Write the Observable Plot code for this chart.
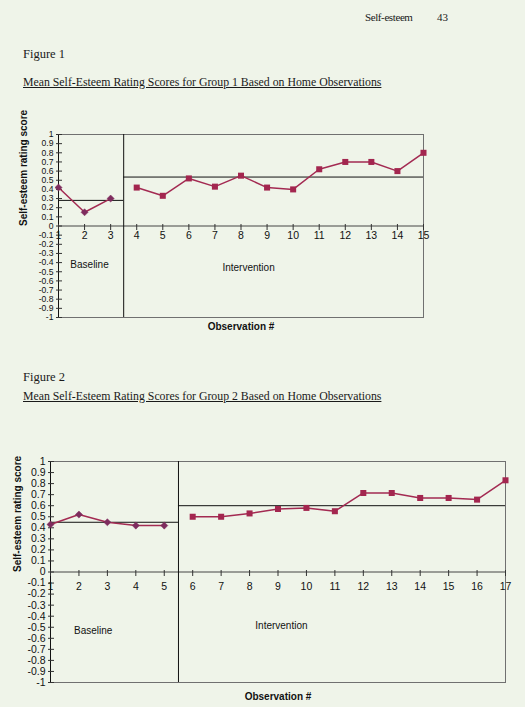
<!DOCTYPE html>
<html>
<head>
<meta charset="utf-8">
<script src="https://cdn.jsdelivr.net/npm/d3@7"></script>
<script src="https://cdn.jsdelivr.net/npm/@observablehq/plot@0.6"></script>
<style>
  html, body { margin: 0; padding: 0; }
  body { background: #eff4e9; width: 525px; height: 707px; overflow: hidden; }
  #page { position: relative; width: 525px; height: 707px; }
  .serif { position: absolute; font-family: "Liberation Serif", "Times New Roman", serif; font-size: 11.8px; line-height: 12px; color: #1a1a1a; white-space: nowrap; }
  .u { text-decoration: underline; }
  .chart { position: absolute; left: 0; }
</style>
</head>
<body>
<div id="page">
  <div class="serif" style="left:365px; top:11px; font-size:11px; letter-spacing:-0.4px;">Self-esteem</div>
  <div class="serif" style="left:437px; top:11px; font-size:11px;">43</div>
  <div class="serif" style="left:23px; top:48px; font-size:12.5px;">Figure 1</div>
  <div class="serif u" style="left:23px; top:76px;">Mean Self-Esteem Rating Scores for Group 1 Based on Home Observations</div>
  <div class="serif" style="left:23px; top:371px; font-size:12.5px;">Figure 2</div>
  <div class="serif u" style="left:23px; top:390px;">Mean Self-Esteem Rating Scores for Group 2 Based on Home Observations</div>
  <div id="c1" class="chart" style="top:120px;"></div>
  <div id="c2" class="chart" style="top:445px;"></div>
</div>
<script>
// ---- Data ----
const yTicks = d3.range(-10, 11).map(i => i / 10);

// Group 1
const baseObs1 = [1, 2, 3];
const baseVals1 = [0.42, 0.15, 0.30];
const intObs1 = [4, 5, 6, 7, 8, 9, 10, 11, 12, 13, 14, 15];
const intVals1 = [0.42, 0.33, 0.52, 0.43, 0.55, 0.42, 0.40, 0.62, 0.70, 0.70, 0.60, 0.80];
const baseMean1 = 0.28;
const intMean1 = 0.535;

// Group 2
const baseObs2 = [1, 2, 3, 4, 5];
const baseVals2 = [0.43, 0.52, 0.45, 0.42, 0.42];
const intObs2 = [6, 7, 8, 9, 10, 11, 12, 13, 14, 15, 16, 17];
const intVals2 = [0.50, 0.50, 0.53, 0.57, 0.58, 0.55, 0.715, 0.715, 0.67, 0.67, 0.655, 0.83];
const baseMean2 = 0.45;
const intMean2 = 0.60;

const phaseLabels = ["Baseline", "Intervention"];

// ---- Drawing ----
const lineColor = "#a32a52";
const squareColor = "#a3264f";
const diamondColor = "#7e2c5e";
const fmt = d => (Math.abs(d) < 1e-9 ? "0" : String(+d.toFixed(1)));

const hTick = { draw(ctx) { ctx.moveTo(-2.5, 0); ctx.lineTo(3.5, 0); } };
const vTick = { draw(ctx) { ctx.moveTo(0, -2); ctx.lineTo(0, 4); } };

function chart(cfg) {
  const base = cfg.baseObs.map((o, i) => ({ obs: o, value: cfg.baseVals[i] }));
  const inter = cfg.intObs.map((o, i) => ({ obs: o, value: cfg.intVals[i] }));
  const allObs = cfg.baseObs.concat(cfg.intObs);
  const x0 = allObs[0], x1 = allObs[allObs.length - 1];
  const split = (cfg.baseObs[cfg.baseObs.length - 1] + cfg.intObs[0]) / 2;
  return Plot.plot({
    width: 525,
    height: cfg.height,
    marginTop: cfg.mt, marginBottom: cfg.mb, marginLeft: cfg.ml, marginRight: cfg.mr,
    x: { domain: [x0, x1], axis: null },
    y: { domain: [-1, 1] },
    style: { background: "transparent", fontFamily: "'Liberation Sans', Arial, sans-serif", fontSize: "10.5px", color: "#111", overflow: "visible" },
    marks: [
      Plot.frame({ stroke: "#707070", strokeWidth: 1 }),
      Plot.ruleY([0], { stroke: "#444", strokeWidth: 1 }),
      Plot.ruleX([x0], { stroke: "#111", strokeWidth: 1 }),
      Plot.ruleX([split], { stroke: "#111", strokeWidth: 1 }),
      Plot.ruleY([cfg.baseMean], { x1: () => x0, x2: () => split, stroke: "#111", strokeWidth: 1 }),
      Plot.ruleY([cfg.intMean], { x1: () => split, x2: () => x1, stroke: "#111", strokeWidth: 1 }),
      Plot.dot(yTicks, { x: () => x0, y: d => d, symbol: hTick, stroke: "#333", strokeWidth: 1, r: 3 }),
      Plot.dot(allObs, { x: d => d, y: () => 0, symbol: vTick, stroke: "#333", strokeWidth: 1, r: 3 }),
      Plot.axisY({ ticks: yTicks, tickSize: 0, tickPadding: 5, tickFormat: fmt, label: null, fontSize: cfg.yFont }),
      Plot.text(allObs, { x: d => d, y: () => 0, dy: cfg.xLabelDy, text: d => String(d), fontSize: 10.5 }),
      Plot.line(base, { x: "obs", y: "value", stroke: lineColor, strokeWidth: 1.5 }),
      Plot.line(inter, { x: "obs", y: "value", stroke: lineColor, strokeWidth: 1.5 }),
      Plot.dot(base, { x: "obs", y: "value", symbol: "diamond2", fill: diamondColor, stroke: diamondColor, strokeWidth: 0.5, r: 3.2 }),
      Plot.dot(inter, { x: "obs", y: "value", symbol: "square", fill: squareColor, r: 3.4 }),
      Plot.text([phaseLabels[0]], { x: cfg.baseLabel[0], y: cfg.baseLabel[1], text: d => d, fontSize: 10 }),
      Plot.text([phaseLabels[1]], { x: cfg.intLabel[0], y: cfg.intLabel[1], text: d => d, fontSize: 10 }),
      Plot.text(["Observation #"], { frameAnchor: "bottom", dy: cfg.obsDy, text: d => d, fontWeight: "bold", fontSize: 10 }),
      Plot.text(["Self-esteem rating score"], { frameAnchor: "left", dx: cfg.yTitleDx, rotate: -90, text: d => d, fontWeight: "bold", fontSize: 10 })
    ]
  });
}

document.getElementById("c1").append(chart({
  baseObs: baseObs1, baseVals: baseVals1, intObs: intObs1, intVals: intVals1,
  baseMean: baseMean1, intMean: intMean1,
  height: 220, mt: 14, mb: 23, ml: 58, mr: 102,
  xLabelDy: 10, obsDy: 12, yTitleDx: -35, yFont: 8.6,
  baseLabel: [2.19, -0.42], intLabel: [8.29, -0.46]
}));

document.getElementById("c2").append(chart({
  baseObs: baseObs2, baseVals: baseVals2, intObs: intObs2, intVals: intVals2,
  baseMean: baseMean2, intMean: intMean2,
  height: 262, mt: 16, mb: 25, ml: 50, mr: 20,
  xLabelDy: 15, obsDy: 17, yTitleDx: -33, yFont: 10.5,
  baseLabel: [2.5, -0.53], intLabel: [9.12, -0.49]
}));
</script>
</body>
</html>
